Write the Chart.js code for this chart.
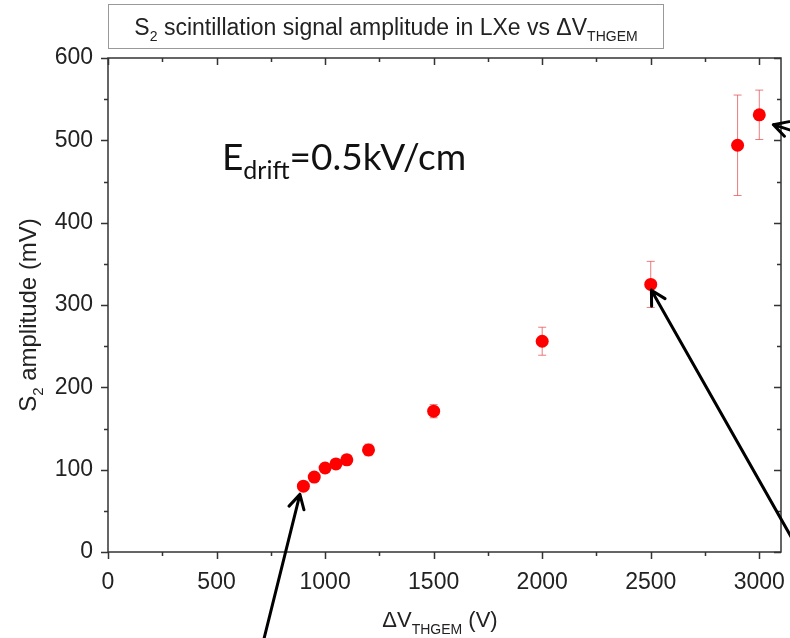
<!DOCTYPE html>
<html>
<head>
<meta charset="utf-8">
<script src="https://cdn.jsdelivr.net/npm/chart.js@4.4.1/dist/chart.umd.min.js"></script>
<style>
  html, body { margin: 0; padding: 0; background: #fff; }
  #wrap { width: 790px; height: 638px; }
</style>
</head>
<body>
<div id="wrap"><canvas id="chart" width="790" height="638"></canvas></div>
<script>
// Data
const voltages = [900, 950, 1000, 1050, 1100, 1200, 1500, 2000, 2500, 2900, 3000];
const amplitudes = [80, 91, 102, 107, 112, 124, 171, 256, 325, 494, 531];
const amplitudeErrors = [3, 4, 5, 5, 6, 7, 8, 17, 28, 61, 30];

const xMajorTicks = [0, 500, 1000, 1500, 2000, 2500, 3000];
const xMinorTicks = [250, 750, 1250, 1750, 2250, 2750];
const yMajorTicks = [0, 100, 200, 300, 400, 500, 600];
const yMinorTicks = [50, 150, 250, 350, 450, 550];

// Annotation arrows, in data units (tails may lie outside the plot)
const arrowTips = [[884, 70], [2503, 318], [3065, 519]];
const arrowTails = [[700, -125], [3184, 1], [3184, 509]];

const ARIAL = '"Liberation Sans", Arial, sans-serif';

// draws text made of normal / subscript parts, aligned on x
function drawParts(ctx, parts, x, y, size, subSize, subDrop, font, align) {
  let width = 0;
  parts.forEach(p => {
    ctx.font = (p.sub ? subSize : size) + 'px ' + font;
    width += ctx.measureText(p.t).width;
  });
  let cx = align === 'center' ? x - width / 2 : x;
  ctx.textBaseline = 'alphabetic';
  ctx.textAlign = 'left';
  parts.forEach(p => {
    ctx.font = (p.sub ? subSize : size) + 'px ' + font;
    ctx.fillText(p.t, cx, p.sub ? y + subDrop : y);
    cx += ctx.measureText(p.t).width;
  });
  return width;
}

const errorBars = {
  id: 'errorBars',
  beforeDatasetsDraw(chart) {
    const { ctx, scales: { x, y } } = chart;
    ctx.save();
    ctx.strokeStyle = 'rgba(228, 80, 80, 0.75)';
    ctx.lineWidth = 1;
    voltages.forEach((v, i) => {
      const px = x.getPixelForValue(v);
      const top = y.getPixelForValue(amplitudes[i] + amplitudeErrors[i]);
      const bot = y.getPixelForValue(amplitudes[i] - amplitudeErrors[i]);
      ctx.beginPath();
      ctx.moveTo(px, top); ctx.lineTo(px, bot);
      ctx.moveTo(px - 4, top); ctx.lineTo(px + 4, top);
      ctx.moveTo(px - 4, bot); ctx.lineTo(px + 4, bot);
      ctx.stroke();
    });
    ctx.restore();
  }
};

const frameAndText = {
  id: 'frameAndText',
  afterDraw(chart) {
    const { ctx, chartArea: a, scales: { x, y } } = chart;
    ctx.save();

    // frame + ticks
    ctx.strokeStyle = '#333';
    ctx.lineWidth = 1.5;
    ctx.strokeRect(a.left, a.top, a.right - a.left, a.bottom - a.top);
    ctx.beginPath();
    const tickX = (vals, len) => vals.forEach(v => {
      const px = Math.round(x.getPixelForValue(v)) + 0.5;
      ctx.moveTo(px, a.bottom); ctx.lineTo(px, a.bottom + len);
      ctx.moveTo(px, a.top); ctx.lineTo(px, a.top + len);
    });
    const tickY = (vals, len) => vals.forEach(v => {
      const py = Math.round(y.getPixelForValue(v)) + 0.5;
      ctx.moveTo(a.left, py); ctx.lineTo(a.left - len, py);
      ctx.moveTo(a.right, py); ctx.lineTo(a.right - len, py);
    });
    tickX(xMajorTicks, 7); tickX(xMinorTicks, 4);
    tickY(yMajorTicks, 7); tickY(yMinorTicks, 4);
    ctx.stroke();

    // title box
    ctx.strokeStyle = '#999';
    ctx.lineWidth = 1;
    ctx.strokeRect(108.5, 4.5, 555, 44);
    ctx.fillStyle = '#222';
    drawParts(ctx, [
      { t: 'S' }, { t: '2', sub: true },
      { t: ' scintillation signal amplitude in LXe vs \u0394V' },
      { t: 'THGEM', sub: true }
    ], 386, 35, 23, 14, 6, ARIAL, 'center');

    // x axis title
    drawParts(ctx, [
      { t: '\u0394V' }, { t: 'THGEM', sub: true }, { t: ' (V)' }
    ], 440, 627, 22, 14, 7, ARIAL, 'center');

    // y axis title (rotated)
    ctx.save();
    ctx.translate(36, 315);
    ctx.rotate(-Math.PI / 2);
    drawParts(ctx, [
      { t: 'S' }, { t: '2', sub: true }, { t: ' amplitude (mV)' }
    ], 0, 0, 24, 15, 7, ARIAL, 'center');
    ctx.restore();

    // E_drift label
    ctx.fillStyle = '#111';
    drawParts(ctx, [
      { t: 'E' }, { t: 'drift', sub: true }, { t: '=0.5kV/cm' }
    ], x.getPixelForValue(525), y.getPixelForValue(464), 37, 25, 9, 'Lato, "Open Sans", sans-serif', 'left');

    // arrows
    ctx.strokeStyle = '#000';
    ctx.lineWidth = 3;
    ctx.lineCap = 'round';
    arrowTips.forEach((tip, i) => {
      const tx = x.getPixelForValue(tip[0]), ty = y.getPixelForValue(tip[1]);
      const sx = x.getPixelForValue(arrowTails[i][0]), sy = y.getPixelForValue(arrowTails[i][1]);
      const ang = Math.atan2(ty - sy, tx - sx);
      ctx.beginPath();
      ctx.moveTo(sx, sy); ctx.lineTo(tx, ty);
      [-0.5, 0.5].forEach(d => {
        ctx.moveTo(tx, ty);
        ctx.lineTo(tx - 16 * Math.cos(ang + d), ty - 16 * Math.sin(ang + d));
      });
      ctx.stroke();
    });

    ctx.restore();
  }
};

new Chart(document.getElementById('chart'), {
  type: 'scatter',
  data: {
    datasets: [{
      label: 'S2 amplitude',
      data: voltages.map((v, i) => ({ x: v, y: amplitudes[i] })),
      pointRadius: 6.5,
      pointHoverRadius: 6.5,
      pointBackgroundColor: '#ff0000',
      pointBorderWidth: 0,
      showLine: false
    }]
  },
  options: {
    responsive: false,
    animation: false,
    layout: { padding: { top: 58, right: 9, left: 0, bottom: 0 } },
    plugins: {
      legend: { display: false },
      tooltip: { enabled: false }
    },
    scales: {
      x: {
        type: 'linear',
        min: 0,
        max: 3100,
        afterFit(scale) { scale.height = 86; scale.paddingRight = 0; },
        afterBuildTicks(scale) { scale.ticks = xMajorTicks.map(v => ({ value: v })); },
        grid: { display: false, drawTicks: false },
        border: { display: false },
        ticks: {
          padding: 17,
          color: '#222',
          font: { family: ARIAL, size: 23 },
          callback: v => String(v)
        }
      },
      y: {
        min: 0,
        max: 600,
        afterFit(scale) { scale.width = 108; },
        afterBuildTicks(scale) { scale.ticks = yMajorTicks.map(v => ({ value: v })); },
        grid: { display: false, drawTicks: false },
        border: { display: false },
        ticks: {
          padding: 15,
          color: '#222',
          font: { family: ARIAL, size: 23 },
          callback: v => String(v)
        }
      }
    }
  },
  plugins: [errorBars, frameAndText]
});
</script>
</body>
</html>
